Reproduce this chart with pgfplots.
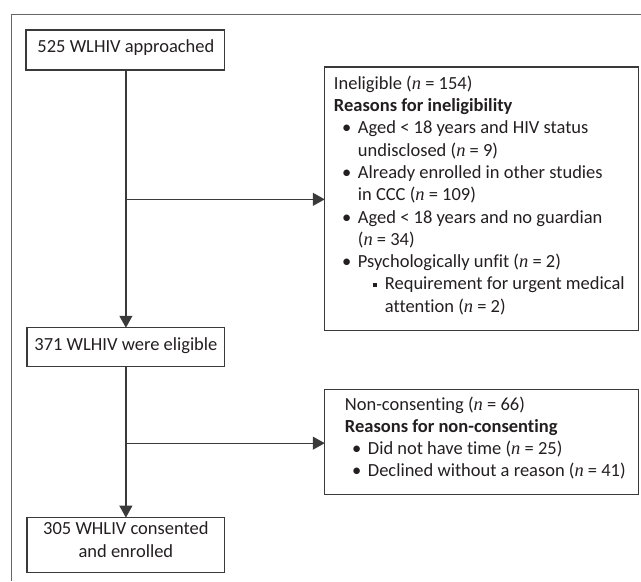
\documentclass[border=0pt]{standalone}
\usepackage{fontspec}
\setmainfont{Carlito}[Ligatures={NoCommon}]
\newfontfamily\nfont{Liberation Serif}
\usepackage{pgfplots}
\pgfplotsset{compat=1.18}
\usetikzlibrary{arrows.meta}
\definecolor{boxc}{HTML}{3A3A3A}
\definecolor{framec}{HTML}{666666}
\definecolor{txt}{HTML}{231F20}
\newcommand{\fs}{\fontsize{18.5}{22.3}\selectfont}
\newcommand{\nn}{{\nfont\itshape n}}
\newcommand{\bul}{\textbullet}
\newcommand{\sq}{\raisebox{0.14em}{\rule{0.22em}{0.22em}}}
\tikzset{
  lbl/.style={anchor=mid west, inner sep=0pt, font=\fs, text=txt},
  cl/.style={anchor=mid, inner sep=0pt, font=\fs, text=txt},
  bl/.style={anchor=mid, inner sep=0pt, font=\fs, text=txt},
}
\begin{document}
\begin{tikzpicture}
\begin{axis}[
  width=641pt, height=581pt, scale only axis,
  xmin=0, xmax=641, ymin=0, ymax=581, y dir=reverse,
  hide axis, clip=false,
  every axis plot/.append style={mark=none, line join=miter},
]
% extent of the page
\addplot[draw=none] coordinates {(0,0) (641,581)};
% outer frame (top and left only)
\addplot[framec, line width=1pt] coordinates {(12,581) (12,15) (641,15)};
% boxes
\addplot[boxc, line width=1.2pt, line cap=rect] coordinates {(26,30) (225,30) (225,70) (26,70) (26,30)};
\addplot[boxc, line width=1.2pt, line cap=rect] coordinates {(325,67) (639,67) (639,331) (325,331) (325,67)};
\addplot[boxc, line width=1.2pt, line cap=rect] coordinates {(27,328) (225,328) (225,367) (27,367) (27,328)};
\addplot[boxc, line width=1.2pt, line cap=rect] coordinates {(325,390) (639,390) (639,495) (325,495) (325,390)};
\addplot[boxc, line width=1.2pt, line cap=rect] coordinates {(27,518) (225,518) (225,573) (27,573) (27,518)};
% connectors
\addplot[boxc, line width=1.3pt, -{Triangle[length=12pt,width=13pt]}] coordinates {(126,70) (126,328)};
\addplot[boxc, line width=1.3pt, -{Triangle[length=12pt,width=13pt]}] coordinates {(126,199.5) (325,199.5)};
\addplot[boxc, line width=1.3pt, -{Triangle[length=12pt,width=13pt]}] coordinates {(126,367) (126,518)};
\addplot[boxc, line width=1.3pt, -{Triangle[length=12pt,width=13pt]}] coordinates {(126,443.5) (325,443.5)};
% texts left column
\node[cl] at (axis cs:126,50) {525 WLHIV approached};
\node[cl] at (axis cs:126,348) {371 WLHIV were eligible};
\node[cl] at (axis cs:126,533) {305 WHLIV consented};
\node[cl] at (axis cs:126,555.3) {and enrolled};
% box 2
\node[lbl] at (axis cs:334,87) {Ineligible (\nn{} = 154)};
\node[lbl] at (axis cs:334,109.3) {\textbf{Reasons for ineligibility}};
\node[bl] at (axis cs:347,131.6) {\bul};
\node[lbl] at (axis cs:358,131.6) {Aged < 18 years and HIV status};
\node[lbl] at (axis cs:358,153.9) {undisclosed (\nn{} = 9)};
\node[bl] at (axis cs:347,176.2) {\bul};
\node[lbl] at (axis cs:358,176.2) {Already enrolled in other studies};
\node[lbl] at (axis cs:358,198.5) {in CCC (\nn{} = 109)};
\node[bl] at (axis cs:347,220.8) {\bul};
\node[lbl] at (axis cs:358,220.8) {Aged < 18 years and no guardian};
\node[lbl] at (axis cs:358,243.1) {(\nn{} = 34)};
\node[bl] at (axis cs:347,265.4) {\bul};
\node[lbl] at (axis cs:358,265.4) {Psychologically unfit (\nn{} = 2)};
\node[lbl] at (axis cs:373.5,287.7) {\sq};
\node[lbl] at (axis cs:385,287.7) {Requirement for urgent medical};
\node[lbl] at (axis cs:385,310) {attention (\nn{} = 2)};
% box 4
\node[lbl] at (axis cs:345,408) {Non-consenting (\nn{} = 66)};
\node[lbl] at (axis cs:345,430.3) {\textbf{Reasons for non-consenting}};
\node[bl] at (axis cs:357,452.6) {\bul};
\node[lbl] at (axis cs:368,452.6) {Did not have time (\nn{} = 25)};
\node[bl] at (axis cs:357,474.9) {\bul};
\node[lbl] at (axis cs:368,474.9) {Declined without a reason (\nn{} = 41)};
\end{axis}
\end{tikzpicture}
\end{document}
